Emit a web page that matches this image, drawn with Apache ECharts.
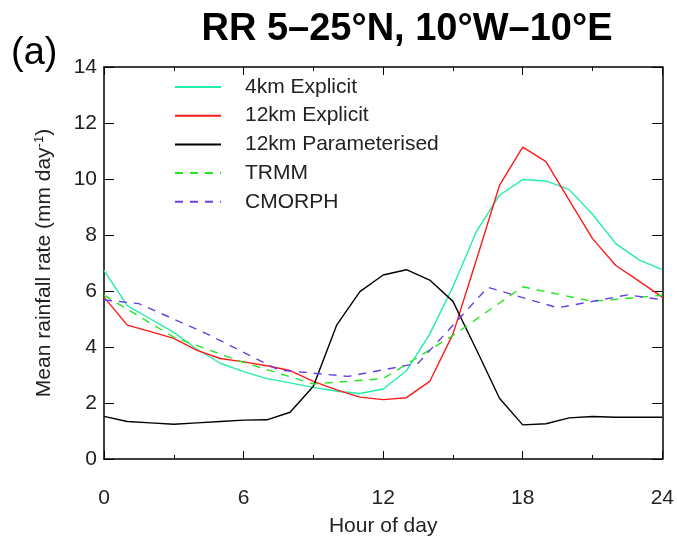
<!DOCTYPE html>
<html>
<head>
<meta charset="utf-8">
<script src="https://cdn.jsdelivr.net/npm/echarts@6/dist/echarts.min.js"></script>
<style>
html,body{margin:0;padding:0;background:#fff;}
#chart{width:677px;height:542px;}
</style>
</head>
<body>
<div id="chart"></div>
<script>
// Hours for model output (hourly)
var modelHours = [0,1,2,3,4,5,6,7,8,9,10,11,12,13,14,15,16,17,18,19,20,21,22,23,24];
var km4Explicit = [6.74,5.48,5.0,4.52,3.92,3.42,3.12,2.87,2.72,2.56,2.42,2.34,2.50,3.15,4.46,6.15,8.11,9.42,9.98,9.93,9.62,8.74,7.69,7.11,6.76];
var km12Explicit = [5.78,4.78,4.55,4.31,3.88,3.59,3.47,3.33,3.16,2.77,2.47,2.21,2.12,2.19,2.77,4.46,7.09,9.77,11.14,10.62,9.24,7.87,6.91,6.35,5.78];
var km12Param = [1.52,1.34,1.29,1.24,1.29,1.34,1.39,1.40,1.67,2.60,4.78,5.98,6.57,6.76,6.39,5.63,3.92,2.17,1.22,1.26,1.47,1.52,1.49,1.49,1.49];
// Observations
var trmmHours = [0,3,6,9,12,15,18,21,24];
var trmm = [5.85,4.35,3.45,2.68,2.87,4.41,6.15,5.63,5.85];
var cmorphHours = [0,1.5,4.5,7.5,10.5,13.5,16.5,19.5,22.5,24];
var cmorph = [5.68,5.55,4.44,3.18,2.95,3.42,6.13,5.40,5.86,5.69];

var seriesNames = ['4km Explicit','12km Explicit','12km Parameterised','TRMM','CMORPH'];
var xTicks = [0,6,12,18,24];

function pairs(xs, ys){ return xs.map(function(x,i){ return [x, ys[i]]; }); }

var font = 'Liberation Sans, Arial, Helvetica, sans-serif';
var txt = '#222';
var chart = echarts.init(document.getElementById('chart'), null, {renderer:'canvas'});

function mk(name, xs, ys, color, dashed){
  return {
    name: name, type: 'line', data: pairs(xs, ys),
    xAxisIndex: 0, yAxisIndex: 0,
    symbol: 'none', showSymbol: false, animation: false,
    lineStyle: {color: color, width: 1.4, type: dashed ? [8,7] : 'solid'},
    itemStyle: {color: color}
  };
}

var option = {
  animation: false,
  backgroundColor: '#fff',
  title: {
    text: 'RR 5–25°N, 10°W–10°E',
    left: 402, top: 6, textAlign: 'center',
    textStyle: {fontFamily: font, fontSize: 38, fontWeight: 'bold', color: '#000'}
  },
  graphic: [{
    type: 'text', left: 11, top: 35,
    style: {text: '(a)', font: '38px ' + font, fill: '#000'}
  }],
  legend: {
    orient: 'vertical', left: 174, top: 76.5,
    itemWidth: 46, itemHeight: 14, itemGap: 7.7,
    padding: 0,
    data: seriesNames,
    itemStyle: {opacity: 0},
    textStyle: {fontFamily: font, fontSize: 21, color: txt, padding: [0,0,0,19]}
  },
  grid: {left: 104, right: 13, top: 67, bottom: 75, containLabel: false},
  xAxis: [{
    type: 'value', min: 0, max: 24, interval: 6,
    name: 'Hour of day', nameLocation: 'middle', nameGap: 57,
    nameTextStyle: {fontFamily: font, fontSize: 21, color: txt},
    axisLine: {show: true, onZero: false, lineStyle: {color: '#000', width: 1.5}},
    axisTick: {show: true, inside: true, length: 8, lineStyle: {color: '#000', width: 1}},
    minorTick: {show: true, splitNumber: 2, length: 4, lineStyle: {color: '#000', width: 1}},
    axisLabel: {fontFamily: font, fontSize: 21, color: txt, margin: 29,
      formatter: function(v){ return xTicks.indexOf(v) >= 0 ? String(v) : ''; }},
    splitLine: {show: false}
  }, {
    type: 'value', min: 0, max: 24, interval: 6, position: 'top',
    axisLine: {show: true, onZero: false, lineStyle: {color: '#000', width: 1.5}},
    axisTick: {show: true, inside: true, length: 8, lineStyle: {color: '#000', width: 1}},
    minorTick: {show: true, splitNumber: 2, length: 4, lineStyle: {color: '#000', width: 1}},
    axisLabel: {show: false}, splitLine: {show: false}
  }],
  yAxis: [{
    type: 'value', min: 0, max: 14, interval: 2,
    name: 'Mean rainfall rate (mm day{sup|-1})', nameLocation: 'middle', nameGap: 48,
    nameTextStyle: {fontFamily: font, fontSize: 21, color: txt,
      rich: {sup: {fontFamily: font, fontSize: 13, color: txt, verticalAlign: 'top', padding: [0,0,10,0]}}},
    axisLine: {show: true, onZero: false, lineStyle: {color: '#000', width: 1.5}},
    axisTick: {show: true, inside: true, length: 10, lineStyle: {color: '#000', width: 1}},
    axisLabel: {fontFamily: font, fontSize: 21, color: txt, margin: 7},
    splitLine: {show: false}
  }, {
    type: 'value', min: 0, max: 14, interval: 2, position: 'right',
    axisLine: {show: true, onZero: false, lineStyle: {color: '#000', width: 1.5}},
    axisTick: {show: true, inside: true, length: 10, lineStyle: {color: '#000', width: 1}},
    axisLabel: {show: false}, splitLine: {show: false}
  }],
  series: [
    mk(seriesNames[0], modelHours, km4Explicit, '#22eeaa', false),
    mk(seriesNames[1], modelHours, km12Explicit, '#ff1a1a', false),
    mk(seriesNames[2], modelHours, km12Param, '#000000', false),
    mk(seriesNames[3], trmmHours, trmm, '#22e622', true),
    mk(seriesNames[4], cmorphHours, cmorph, '#6a3fe6', true)
  ]
};
chart.setOption(option);
</script>
</body>
</html>
